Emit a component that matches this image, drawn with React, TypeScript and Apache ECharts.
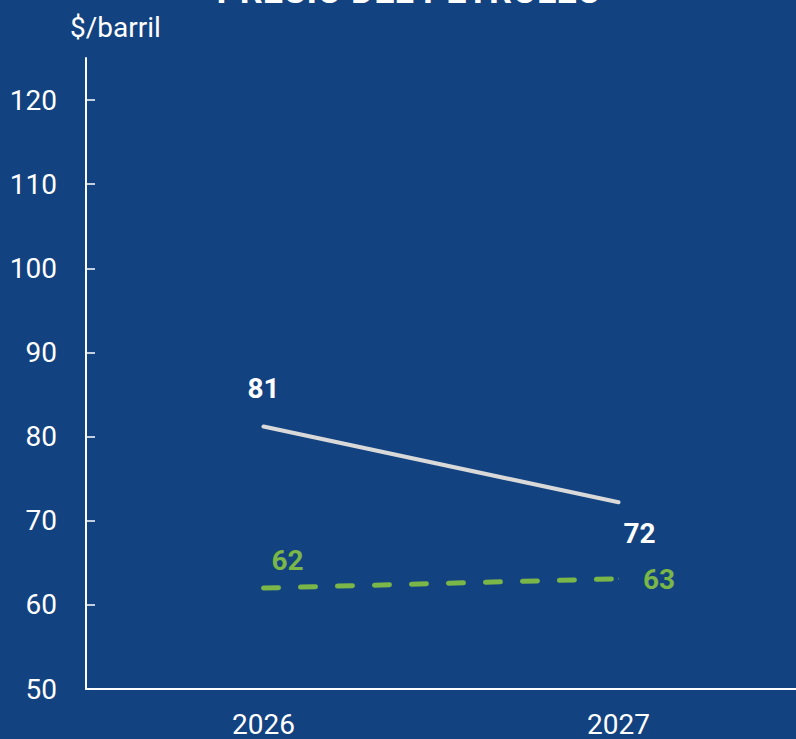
import React, { useEffect, useRef } from "react";
import * as echarts from "echarts";

const years = ["2026", "2027"];
const seriesA = [81.2, 72.2]; // white solid line
const seriesB = [62.0, 63.1]; // green dashed line
const labelsA = ["81", "72"];
const labelsB = ["62", "63"];
const yTitle = "$/barril";
const chartTitle = "PRECIO DEL PETRÓLEO";

const BG = "#134280";
const WHITE = "#ffffff";
const LINE_A = "#d9d9d9";
const GREEN = "#7ab648";
const FONT = "Roboto";

export default function App() {
  const ref = useRef<HTMLDivElement>(null);
  useEffect(() => {
    if (!ref.current) return;
    const chart = echarts.init(ref.current, null, { renderer: "svg" });
    chart.setOption({
      animation: false,
      backgroundColor: BG,
      textStyle: { fontFamily: FONT },
      graphic: [
        {
          type: "text",
          x: 409,
          y: -27,
          style: {
            text: chartTitle,
            fill: WHITE,
            font: `bold 36px ${FONT}`,
            align: "center",
            verticalAlign: "top",
          },
        },
        {
          type: "text",
          left: 70,
          top: 13,
          style: { text: yTitle, fill: WHITE, font: `28px ${FONT}` },
        },
      ],
      grid: { left: 86, top: 58, width: 714, bottom: 50 },
      xAxis: {
        type: "category",
        data: years,
        boundaryGap: true,
        axisLine: { lineStyle: { color: WHITE, width: 2 } },
        axisTick: { inside: true, length: 10, lineStyle: { color: WHITE, width: 1.5 } },
        axisLabel: { color: WHITE, fontSize: 28, fontFamily: FONT, margin: 21 },
        splitLine: { show: false },
      },
      yAxis: {
        type: "value",
        min: 50,
        max: 125,
        interval: 10,
        axisLine: { show: true, lineStyle: { color: WHITE, width: 2 } },
        axisTick: { show: true, inside: true, length: 9, lineStyle: { color: WHITE, width: 1.5 } },
        axisLabel: {
          color: WHITE,
          fontSize: 28,
          fontFamily: FONT,
          margin: 29,
          showMaxLabel: false,
        },
        splitLine: { show: false },
      },
      series: [
        {
          type: "line",
          data: seriesA.map((v, i) => ({
            value: v,
            label: {
              show: true,
              formatter: labelsA[i],
              position: i === 0 ? "top" : "bottom",
              offset: i === 0 ? [0, -19] : [21, 12],
            },
          })),
          symbol: "circle",
          symbolSize: 1,
          itemStyle: { color: LINE_A },
          lineStyle: { color: LINE_A, width: 4, cap: "round" },
          label: { color: WHITE, fontSize: 28, fontWeight: "bold", fontFamily: FONT },
        },
        {
          type: "line",
          data: seriesB.map((v, i) => ({
            value: v,
            label: {
              show: true,
              formatter: labelsB[i],
              position: i === 0 ? "top" : "right",
              offset: i === 0 ? [24, -8] : [19, 1],
            },
          })),
          symbol: "circle",
          symbolSize: 1,
          itemStyle: { color: GREEN },
          lineStyle: { color: GREEN, width: 5, type: [15, 22], cap: "round" },
          label: { color: GREEN, fontSize: 28, fontWeight: "bold", fontFamily: FONT },
        },
      ],
    });
    return () => chart.dispose();
  }, []);
  return (
    <div
      ref={ref}
      style={{ position: "absolute", left: 0, top: 0, width: 796, height: 739 }}
    />
  );
}
